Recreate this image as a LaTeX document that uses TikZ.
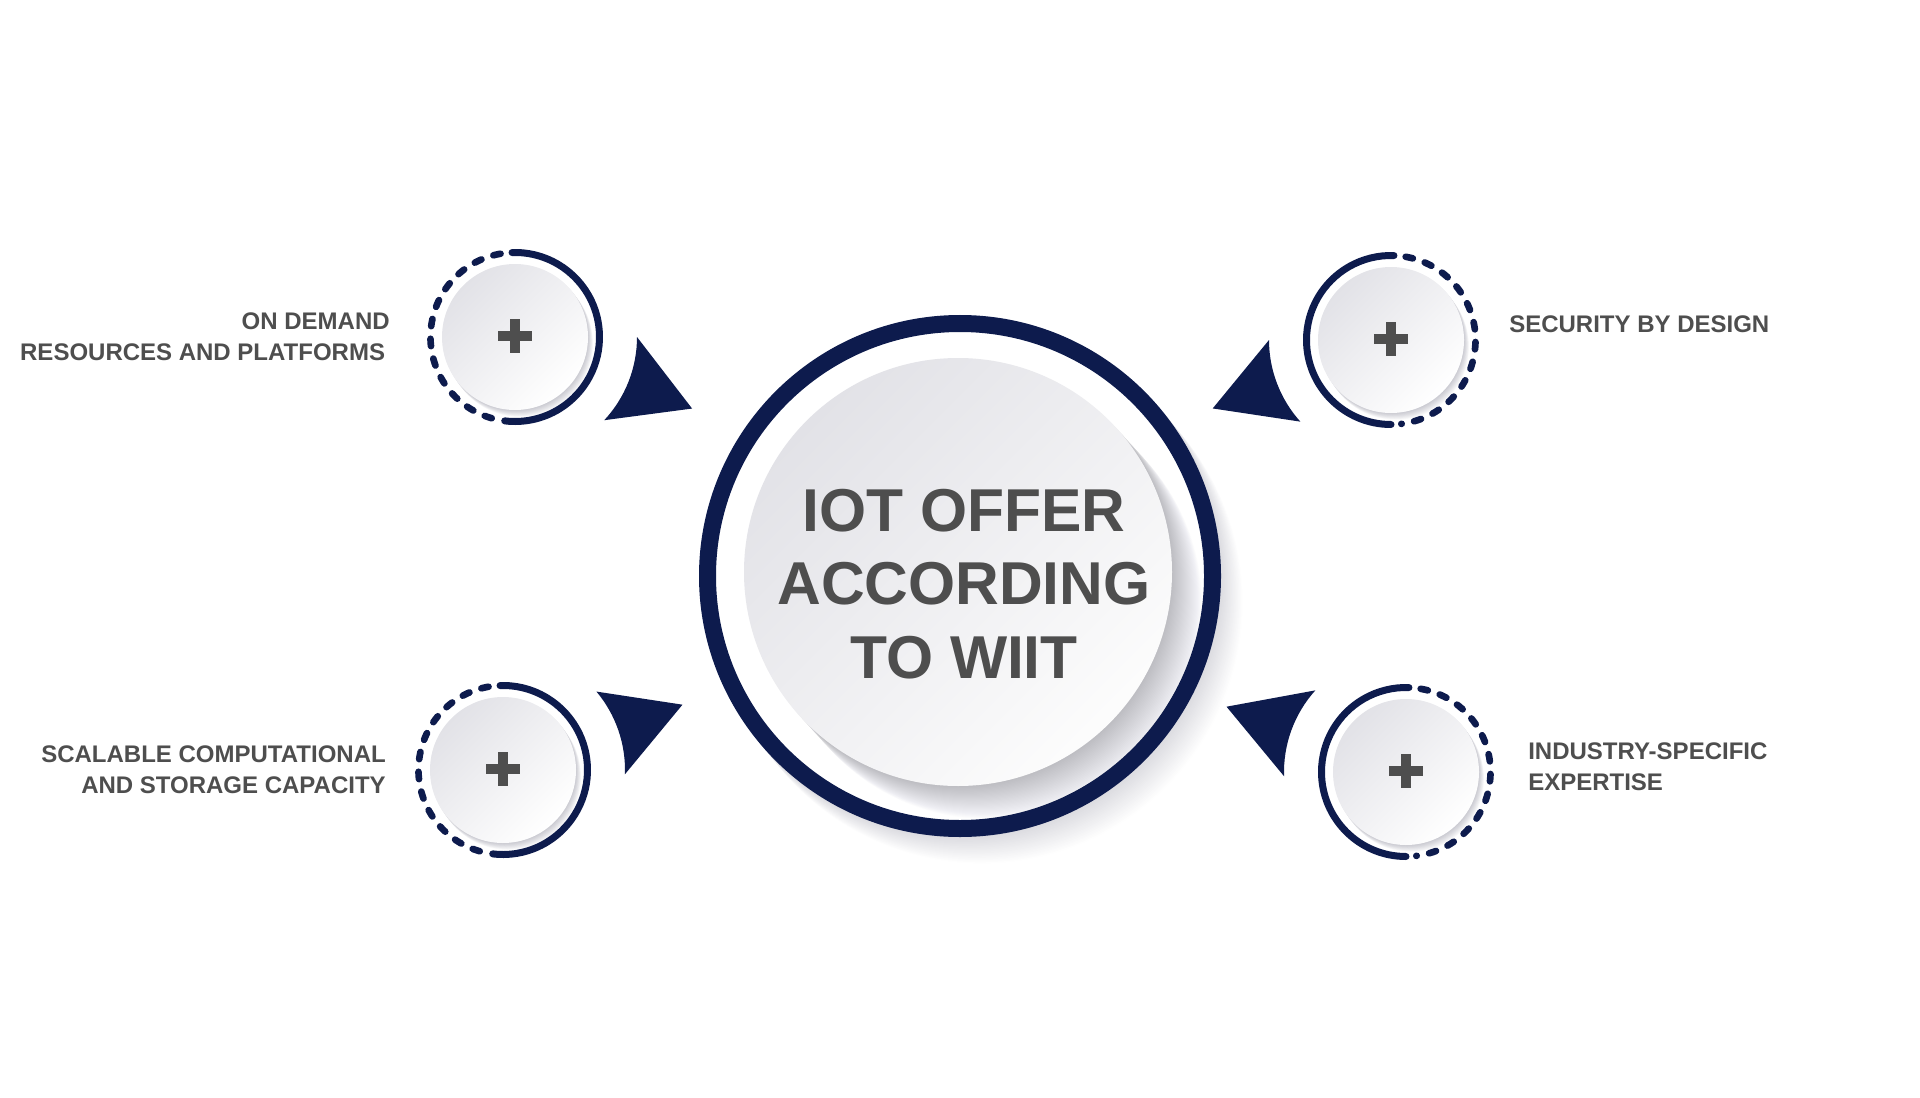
\documentclass[tikz,border=0pt]{standalone}
\usepackage{fontspec}
\setmainfont{Liberation Sans}
\usetikzlibrary{calc}
\definecolor{navy}{RGB}{13,27,77}
\definecolor{txt}{RGB}{78,78,78}
\definecolor{shadowcol}{RGB}{70,70,95}
\definecolor{discgray}{RGB}{226,226,231}
\begin{document}
\begin{tikzpicture}[x=0.75pt,y=-0.75pt,
  ring/.style={draw=navy, line width=5.25pt, line cap=round},
  dashring/.style={draw=navy, line width=5pt, line cap=round, dash pattern=on 5.5pt off 9.5pt},
  bigring/.style={draw=navy, line width=12.75pt},
  pointer/.style={fill=navy},
  smalldisc/.style={circle, inner sep=0pt, minimum size=109.5pt, top color=discgray, bottom color=white, shading angle=45},
  bigdisc/.style={circle, inner sep=0pt, minimum size=321pt, top color=discgray, bottom color=white!98!gray, shading angle=45},
  plusbar/.style={draw=txt, line width=8pt},
  lbl/.style={text=txt, inner sep=0pt, font=\bfseries\fontsize{18}{23.25}\selectfont},
  title/.style={text=txt, inner sep=0pt, align=center, font=\bfseries\fontsize{45.4}{55.2}\selectfont}
]
\useasboundingbox (0,0) rectangle (1920,1098);

% ---------- central unit ----------
\coordinate (corec) at (960,576);
\foreach \k in {1,...,24}
  \fill[shadowcol, opacity=0.009] ($(corec)+(\k*0.9,\k*1.1)$) circle[radius=261];
\draw[bigring, fill=white] (corec) circle[radius=252.5];
\foreach \k in {1,...,30}
  \fill[shadowcol, opacity=0.011] ($(958,572)+(\k,\k*1.1)$) circle[radius=214];
\node[bigdisc] (core) at (958,572) {};
\node[title] (ttl) at (964,584) {IOT OFFER\\ACCORDING\\TO WIIT};

% ---------- small units ----------
\foreach \n/\x/\y in {tl/515/337, tr/1391/340, bl/503/770, br/1406/772}{
  \foreach \k in {1,...,9}
    \fill[shadowcol, opacity=0.035] ($(\x,\y)+(\k*0.55,\k*0.75)$) circle[radius=73];
  \node[smalldisc] (\n) at (\x,\y) {};
  \draw[plusbar] ($(\n.center)+(-17,-1)$) -- ($(\n.center)+(17,-1)$);
  \draw[plusbar] ($(\n.center)+(0,-18)$) -- ($(\n.center)+(0,16)$);
}

% rings: solid towards the centre, dashed outside
\draw[ring] ($(tl.center)+(-92:84.5)$) arc[start angle=-92, end angle=97, radius=84.5];
\draw[dashring] ($(tl.center)+(106:84.5)$) arc[start angle=106, end angle=262, radius=84.5];
\draw[ring] ($(bl.center)+(-92:84.5)$) arc[start angle=-92, end angle=97, radius=84.5];
\draw[dashring] ($(bl.center)+(106:84.5)$) arc[start angle=106, end angle=262, radius=84.5];
\draw[ring] ($(tr.center)+(90:84.5)$) arc[start angle=90, end angle=272, radius=84.5];
\draw[dashring] ($(tr.center)+(-80:84.5)$) arc[start angle=-80, end angle=83, radius=84.5];
\draw[ring] ($(br.center)+(90:84.5)$) arc[start angle=90, end angle=272, radius=84.5];
\draw[dashring] ($(br.center)+(-80:84.5)$) arc[start angle=-80, end angle=83, radius=84.5];

% pointers towards the centre
\fill[pointer] ($(tl.center)+(0:122)$) arc[start angle=0, end angle=43, radius=122] -- ($(tl.center)+(22:191)$) -- cycle;
\fill[pointer] ($(tr.center)+(180:122)$) arc[start angle=180, end angle=138, radius=122] -- ($(tr.center)+(159:191)$) -- cycle;
\fill[pointer] ($(bl.center)+(-40:122)$) arc[start angle=-40, end angle=2, radius=122] -- ($(bl.center)+(-20:191)$) -- cycle;
\fill[pointer] ($(br.center)+(222:122)$) arc[start angle=222, end angle=178, radius=122] -- ($(br.center)+(200:191)$) -- cycle;

% ---------- labels ----------
\node[lbl, anchor=east, align=right] (ltl) at (390,337) {ON DEMAND\\RESOURCES AND PLATFORMS\hspace*{3.5pt}};
\node[lbl, anchor=west, align=left] (ltr) at (1509,324) {SECURITY BY DESIGN};
\node[lbl, anchor=east, align=right] (lbl) at (386,770) {SCALABLE COMPUTATIONAL\\AND STORAGE CAPACITY};
\node[lbl, anchor=west, align=left] (lbr) at (1528,767) {INDUSTRY-SPECIFIC\\EXPERTISE};
\end{tikzpicture}
\end{document}
